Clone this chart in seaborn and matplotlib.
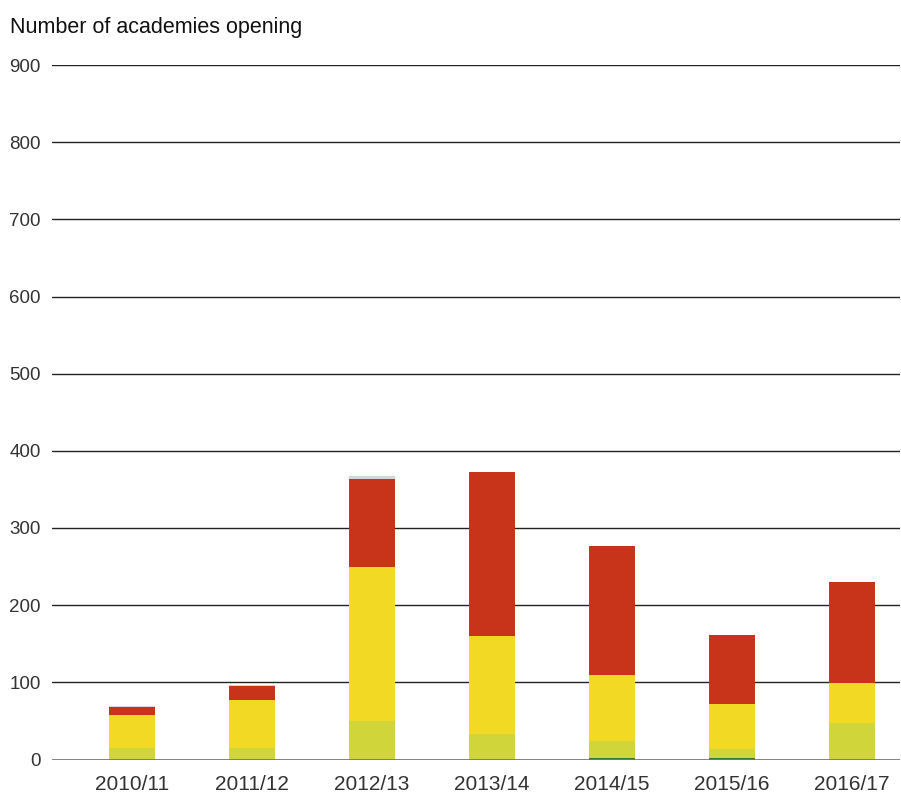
import matplotlib
matplotlib.use("Agg")
import matplotlib.pyplot as plt
import seaborn as sns
import numpy as np
import pandas as pd

years = ["2010/11", "2011/12", "2012/13", "2013/14", "2014/15", "2015/16", "2016/17"]
dark_green = [0, 0, 0, 0, 2, 2, 0]
light_green = [15, 15, 50, 33, 22, 11, 47]
yellow = [43, 62, 200, 127, 85, 59, 52]
red = [10, 18, 113, 212, 168, 89, 131]
grey = [1, 1, 4, 0, 0, 0, 0]

series = [("dark_green", dark_green, "#2E7D32"),
          ("light_green", light_green, "#D0D63A"),
          ("yellow", yellow, "#F2D924"),
          ("red", red, "#C8341A"),
          ("grey", grey, "#D5D5DA")]

sns.set_theme(style="white")
plt.rcParams['font.family'] = ['Liberation Sans', 'DejaVu Sans']

fig = plt.figure(figsize=(9.01, 7.96), dpi=100)
ax = fig.add_axes([52/901, 1-759.5/796, 848/901, (759.5-65)/796])

cum = np.zeros(len(years))
cums = []
for name, vals, col in series:
    cum = cum + np.array(vals, dtype=float)
    cums.append((cum.copy(), col))

for c, col in reversed(cums):
    df = pd.DataFrame({"year": years, "value": c})
    sns.barplot(data=df, x="year", y="value", color=col, width=0.38,
                saturation=1, ax=ax, zorder=3, linewidth=0)

ax.set_ylim(0, 900)
ax.set_xlim(-0.667, 6.4)
ax.set_yticks(range(0, 901, 100))
for v in range(100, 901, 100):
    ax.axhline(v, color="#222222", lw=1.0, zorder=1)
ax.axhline(0, color="#777777", lw=2.0, zorder=4)
for s in ax.spines.values():
    s.set_visible(False)
ax.set_xlabel("")
ax.set_ylabel("")
ax.tick_params(axis="y", length=0, pad=8, labelsize=13.5, labelcolor="#333333")
ax.tick_params(axis="x", length=0, pad=11, labelsize=15, labelcolor="#333333")
ax.grid(False)
fig.text(10/901, 1-27/796, "Number of academies opening", fontsize=15.5,
         color="#111111", ha="left", va="center")

fig.savefig("out.png", dpi=100)
